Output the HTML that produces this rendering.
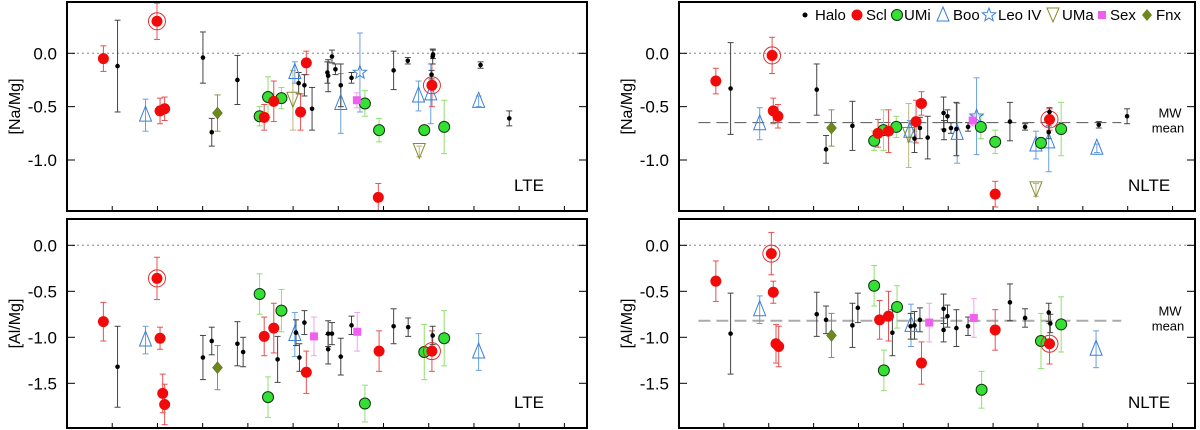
<!DOCTYPE html>
<html><head><meta charset="utf-8"><style>
html,body{margin:0;padding:0;background:#fff;}
svg{display:block;font-family:"Liberation Sans",sans-serif;}
</style></head><body>
<svg id="chart" width="1200" height="430" viewBox="0 0 1200 430"></svg>
<script>
// Data: [x-order, value, error]
const tlHalo=[[307,-0.12,0.43],[530,-0.04,0.24],[553,-0.74,0.13],[620,-0.25,0.23],[780,-0.28,0.1],[795,-0.30,0.1],[815,-0.52,0.2],[855,-0.18,0.1],[857,-0.21,0.15],[867,-0.03,0.06],[876,-0.15,0.05],[890,-0.30,0.2],[918,-0.23,0.05],[1028,-0.16,0.18],[1065,-0.07,0.03],[1127,-0.20,0.04],[1130,-0.03,0.07],[1131,-0.01,0.04],[1255,-0.11,0.03],[1330,-0.61,0.07]];
const tlScl=[[270,-0.05,0.12],[410,0.30,0.17],[418,-0.54,0.12],[430,-0.52,0.11],[690,-0.60,0.12],[715,-0.45,0.19],[785,-0.55,0.17],[800,-0.09,0.11],[988,-1.35,0.13],[1128,-0.30,0.2]];
const tlSclRing=[[410,0.30],[1128,-0.30]];
const tlUMi=[[678,-0.59,0.09],[700,-0.41,0.19],[735,-0.42,0.1],[953,-0.47,0.12],[990,-0.72,0.11],[1108,-0.72,0.02],[1160,-0.69,0.25]];
const tlBoo=[[380,-0.58,0.15],[770,-0.18,0.1],[890,-0.47,0.28],[1093,-0.40,0.14],[1125,-0.38,0.28],[1250,-0.45,0.05]];
const tlLeo=[[940,-0.18,0.37]];
const tlUMa=[[765,-0.44,0.28],[1095,-0.92,0.05]];
const tlSex=[[932,-0.44,0.07]];
const tlFnx=[[568,-0.56,0.17]];

const trHalo=[[338,-0.33,0.43],[560,-0.34,0.24],[584,-0.90,0.13],[652,-0.68,0.23],[812,-0.80,0.13],[826,-0.70,0.1],[846,-0.79,0.2],[887,-0.56,0.15],[888,-0.72,0.09],[897,-0.59,0.06],[906,-0.70,0.05],[920,-0.71,0.25],[950,-0.69,0.04],[1058,-0.64,0.18],[1097,-0.69,0.03],[1160,-0.55,0.04],[1158,-0.74,0.06],[1287,-0.67,0.03],[1360,-0.59,0.07]];
const trScl=[[300,-0.26,0.12],[445,-0.02,0.17],[448,-0.54,0.12],[460,-0.59,0.11],[718,-0.75,0.13],[745,-0.73,0.2],[816,-0.64,0.2],[830,-0.47,0.11],[1020,-1.32,0.12],[1160,-0.62,0.1]];
const trSclRing=[[445,-0.02],[1160,-0.62]];
const trUMi=[[708,-0.82,0.09],[732,-0.72,0.19],[765,-0.69,0.1],[983,-0.69,0.11],[1020,-0.83,0.11],[1138,-0.84,0.05],[1190,-0.71,0.25]];
const trBoo=[[413,-0.66,0.15],[800,-0.73,0.1],[922,-0.75,0.28],[1125,-0.86,0.13],[1158,-0.83,0.28],[1282,-0.89,0.04]];
const trLeo=[[972,-0.59,0.36]];
const trUMa=[[797,-0.77,0.3],[1125,-1.28,0.06]];
const trSex=[[962,-0.63,0.05]];
const trFnx=[[598,-0.70,0.17]];
const trMean=[-0.65];

const blHalo=[[307,-1.32,0.44],[530,-1.22,0.24],[553,-1.04,0.15],[620,-1.07,0.24],[635,-1.16,0.16],[725,-1.24,0.25],[773,-0.95,0.14],[782,-1.22,0.15],[795,-0.84,0.13],[857,-0.96,0.14],[857,-1.13,0.16],[867,-0.96,0.12],[890,-1.21,0.2],[918,-0.87,0.1],[1028,-0.88,0.19],[1066,-0.89,0.1],[1130,-0.98,0.1]];
const blScl=[[270,-0.83,0.21],[410,-0.36,0.23],[418,-1.01,0.12],[425,-1.61,0.21],[430,-1.73,0.22],[690,-0.99,0.21],[715,-0.90,0.27],[800,-1.38,0.23],[990,-1.15,0.22],[1128,-1.15,0.22]];
const blSclRing=[[410,-0.36],[1128,-1.15]];
const blUMi=[[678,-0.53,0.22],[700,-1.65,0.22],[735,-0.71,0.23],[953,-1.72,0.2],[1108,-1.16,0.3],[1160,-1.01,0.3]];
const blBoo=[[380,-1.03,0.15],[770,-0.97,0.24],[1250,-1.16,0.2]];
const blSex=[[820,-0.99,0.21],[933,-0.94,0.21]];
const blFnx=[[568,-1.33,0.24]];

const brHalo=[[338,-0.96,0.44],[560,-0.75,0.24],[584,-0.81,0.15],[652,-0.87,0.24],[666,-0.68,0.16],[755,-0.95,0.25],[802,-0.88,0.14],[812,-0.87,0.15],[826,-0.81,0.13],[887,-0.69,0.16],[887,-0.92,0.13],[897,-0.77,0.12],[920,-0.90,0.2],[950,-0.88,0.1],[1058,-0.62,0.2],[1097,-0.79,0.1],[1158,-0.73,0.1],[1162,-0.85,0.1]];
const brScl=[[300,-0.39,0.22],[443,-0.09,0.23],[448,-0.51,0.12],[455,-1.07,0.21],[462,-1.10,0.22],[722,-0.81,0.21],[745,-0.77,0.27],[830,-1.28,0.23],[1020,-0.92,0.22],[1160,-1.07,0.22]];
const brSclRing=[[443,-0.09],[1160,-1.07]];
const brUMi=[[708,-0.44,0.22],[733,-1.36,0.22],[767,-0.67,0.23],[985,-1.57,0.2],[1138,-1.04,0.3],[1190,-0.86,0.3]];
const brBoo=[[413,-0.70,0.15],[803,-0.87,0.23],[1280,-1.13,0.2]];
const brSex=[[850,-0.84,0.21],[965,-0.79,0.21]];
const brFnx=[[598,-0.98,0.24]];
const brMean=[-0.82];

const topTicks=[0.0,-0.5,-1.0];
const topTickLabels=["0.0","-0.5","-1.0"];
const botTicks=[0.0,-0.5,-1.0,-1.5];
const botTickLabels=["0.0","-0.5","-1.0","-1.5"];

const NS="http://www.w3.org/2000/svg";
const svg=document.getElementById('chart');
function mk(tag,attrs,parent){const e=document.createElementNS(NS,tag);for(const k in attrs)e.setAttribute(k,attrs[k]);(parent||svg).appendChild(e);return e;}

function panel(cfg){
  const g=mk('g',{});
  
  
  const xs=v=>cfg.x0+(v-cfg.d0)/(cfg.d1-cfg.d0)*(cfg.x1-cfg.x0);
  const ys=v=>cfg.yZero-v*cfg.ppu;
  const zl=mk('line',{x1:cfg.x0,x2:cfg.x1,y1:ys(0),y2:ys(0),stroke:'#888','stroke-width':1,'stroke-dasharray':'2,3'},g);
  
  
  if(cfg.mean){
    const ml=mk('line',{x1:xs(cfg.meanFrom),x2:xs(cfg.meanTo),y1:ys(cfg.mean[0]),y2:ys(cfg.mean[0]),stroke:cfg.meanColor,'stroke-width':cfg.meanW,'stroke-dasharray':'12,6'},g);
    
    
    const t1=mk('text',{x:cfg.x1-25,y:ys(cfg.mean[0])-5,'font-size':13,'text-anchor':'middle'},g);t1.textContent='MW';
    
    
    const t2=mk('text',{x:cfg.x1-27,y:ys(cfg.mean[0])+10,'font-size':13,'text-anchor':'middle'},g);t2.textContent='mean';
    
    
  }
  cfg.ticks.forEach((t,i)=>{
    const y=ys(t);
    mk('line',{x1:cfg.x0,x2:cfg.x0+8,y1:y,y2:y,stroke:'#000','stroke-width':1},g);
    mk('line',{x1:cfg.x1-8,x2:cfg.x1,y1:y,y2:y,stroke:'#000','stroke-width':1},g);
    const tl=mk('text',{x:cfg.x0-10,y:y+6,'font-size':17,'text-anchor':'end'},g);
    tl.textContent=cfg.tickLabels[i];
    
    
  });
  for(let k=1;k<12;k++){
    const x=cfg.x0+k*(cfg.x1-cfg.x0)/11.5;
    mk('line',{x1:x,x2:x,y1:cfg.yb-5,y2:cfg.yb,stroke:'#000','stroke-width':1},g);
  }
  function eb(d,col){d.forEach(p=>{const x=xs(p[0]);const e=mk('g',{},g);
    
    
    mk('line',{x1:x,x2:x,y1:ys(p[1]+p[2]),y2:ys(p[1]-p[2]),stroke:col,'stroke-width':1},e);
    mk('line',{x1:x-3,x2:x+3,y1:ys(p[1]+p[2]),y2:ys(p[1]+p[2]),stroke:col,'stroke-width':1},e);
    mk('line',{x1:x-3,x2:x+3,y1:ys(p[1]-p[2]),y2:ys(p[1]-p[2]),stroke:col,'stroke-width':1},e);});}
  const S=cfg.s;
  if(S.uma){eb(S.uma,'#b8b880');}
  if(S.boo){eb(S.boo,'#6aa0e0');}
  if(S.leo){eb(S.leo,'#6aa0e0');}
  if(S.umi){eb(S.umi,'#90e070');}
  if(S.scl){eb(S.scl,'#e85050');}
  if(S.sex){eb(S.sex,'#f0a0f0');}
  if(S.fnx){eb(S.fnx,'#889050');}
  eb(S.halo,'#444');
  if(S.uma)S.uma.forEach(p=>{const x=xs(p[0]),y=ys(p[1]);const m=mk('polygon',{points:`${x-6},${y-8} ${x+6},${y-8} ${x},${y+7}`,fill:'none',stroke:'#8a8a30','stroke-width':1},g);
    
    });
  if(S.boo)S.boo.forEach(p=>{const x=xs(p[0]),y=ys(p[1]);const m=mk('polygon',{points:`${x},${y-9} ${x+6},${y+6} ${x-6},${y+6}`,fill:'none',stroke:'#3a80d8','stroke-width':1},g);
    
    });
  if(S.leo)S.leo.forEach(p=>{const x=xs(p[0]),y=ys(p[1]);let pts='';for(let k=0;k<10;k++){const r=k%2?3:7,a=-Math.PI/2+k*Math.PI/5;pts+=`${x+r*Math.cos(a)},${y+r*Math.sin(a)} `;}
    const m=mk('polygon',{points:pts,fill:'none',stroke:'#3a80d8','stroke-width':1},g);
    
    });
  if(S.umi)S.umi.forEach(p=>{const m=mk('circle',{cx:xs(p[0]),cy:ys(p[1]),r:5.5,fill:'#33e033',stroke:'#113311','stroke-width':1},g);
    
    });
  S.scl.forEach(p=>{const m=mk('circle',{cx:xs(p[0]),cy:ys(p[1]),r:5.5,fill:'#f00a0a'},g);
    
    });
  S.ring.forEach(p=>{const m=mk('circle',{cx:xs(p[0]),cy:ys(p[1]),r:8.5,fill:'none',stroke:'#e03030','stroke-width':1},g);
    
    });
  if(S.sex)S.sex.forEach(p=>{const x=xs(p[0]),y=ys(p[1]);const m=mk('rect',{x:x-4,y:y-4,width:8,height:8,fill:'#f060f0'},g);
    
    });
  if(S.fnx)S.fnx.forEach(p=>{const x=xs(p[0]),y=ys(p[1]);const m=mk('polygon',{points:`${x},${y-6} ${x+5},${y} ${x},${y+6} ${x-5},${y}`,fill:'#6b8a1a',stroke:'#445511','stroke-width':0.5},g);
    
    });
  S.halo.forEach(p=>{const m=mk('circle',{cx:xs(p[0]),cy:ys(p[1]),r:2.3,fill:'#000'},g);
    
    });
  const fr=mk('rect',{x:cfg.x0,y:cfg.yt,width:cfg.x1-cfg.x0,height:cfg.yb-cfg.yt,fill:'none',stroke:'#000','stroke-width':2},g);
  
  
  const lab=mk('text',{x:cfg.labX,y:cfg.yb-20,'font-size':17},g);lab.textContent=cfg.lab;
  
  
  const yc=(cfg.yt+cfg.yb)/2;
  const yt=mk('text',{x:0,y:0,'font-size':16,'text-anchor':'middle',transform:`translate(${cfg.x0-47},${yc}) rotate(-90)`},g);
  yt.textContent=cfg.ytitle;
  
  
}

panel({name:'top-left-na-lte',x0:67,x1:587,d0:175,d1:1533,yt:2,yb:211,yZero:53.3,ppu:106.7,ticks:topTicks,tickLabels:topTickLabels,lab:'LTE',labX:514,ytitle:'[Na/Mg]',
  s:{halo:tlHalo,scl:tlScl,ring:tlSclRing,umi:tlUMi,boo:tlBoo,leo:tlLeo,uma:tlUMa,sex:tlSex,fnx:tlFnx}});
panel({name:'top-right-na-nlte',x0:679,x1:1195,d0:205,d1:1535,yt:2,yb:211,yZero:53.3,ppu:106.7,ticks:topTicks,tickLabels:topTickLabels,lab:'NLTE',labX:1128,ytitle:'[Na/Mg]',
  mean:trMean,meanFrom:255,meanTo:1345,meanColor:'#555',meanW:1,
  s:{halo:trHalo,scl:trScl,ring:trSclRing,umi:trUMi,boo:trBoo,leo:trLeo,uma:trUMa,sex:trSex,fnx:trFnx}});
panel({name:'bottom-left-al-lte',x0:67,x1:587,d0:175,d1:1533,yt:219,yb:428,yZero:245.3,ppu:92,ticks:botTicks,tickLabels:botTickLabels,lab:'LTE',labX:514,ytitle:'[Al/Mg]',
  s:{halo:blHalo,scl:blScl,ring:blSclRing,umi:blUMi,boo:blBoo,sex:blSex,fnx:blFnx}});
panel({name:'bottom-right-al-nlte',x0:679,x1:1195,d0:205,d1:1535,yt:219,yb:428,yZero:245.3,ppu:92,ticks:botTicks,tickLabels:botTickLabels,lab:'NLTE',labX:1128,ytitle:'[Al/Mg]',
  mean:brMean,meanFrom:255,meanTo:1345,meanColor:'#aaa',meanW:2,
  s:{halo:brHalo,scl:brScl,ring:brSclRing,umi:brUMi,boo:brBoo,sex:brSex,fnx:brFnx}});

const lg=mk('g',{});


const legNames=['Halo','Scl','UMi','Boo','Leo IV','UMa','Sex','Fnx'];
const legX=[805,857,897,943,989,1053,1102,1147];
legNames.forEach((n,i)=>{
  const x=legX[i],y=15;
  const e=mk('g',{},lg);
  
  
  if(i==0)mk('circle',{cx:x,cy:y,r:2.5,fill:'#000'},e);
  if(i==1)mk('circle',{cx:x,cy:y,r:5.5,fill:'#f00a0a'},e);
  if(i==2)mk('circle',{cx:x,cy:y,r:5.5,fill:'#33e033',stroke:'#113311'},e);
  if(i==3)mk('polygon',{points:`${x},${y-8} ${x+6},${y+6} ${x-6},${y+6}`,fill:'none',stroke:'#3a80d8'},e);
  if(i==4){let pts='';for(let k=0;k<10;k++){const r=k%2?3:7,a=-Math.PI/2+k*Math.PI/5;pts+=`${x+r*Math.cos(a)},${y+r*Math.sin(a)} `;}mk('polygon',{points:pts,fill:'none',stroke:'#3a80d8'},e);}
  if(i==5)mk('polygon',{points:`${x-6},${y-7} ${x+6},${y-7} ${x},${y+7}`,fill:'none',stroke:'#8a8a30'},e);
  if(i==6)mk('rect',{x:x-4,y:y-4,width:8,height:8,fill:'#f060f0'},e);
  if(i==7)mk('polygon',{points:`${x},${y-6} ${x+5},${y} ${x},${y+6} ${x-5},${y}`,fill:'#6b8a1a'},e);
  const txtX=[815,866,904,953,998,1062,1110,1156];
  const t=mk('text',{x:txtX[i],y:y+5,'font-size':15},e);t.textContent=n;
});
</script>
</body></html>
